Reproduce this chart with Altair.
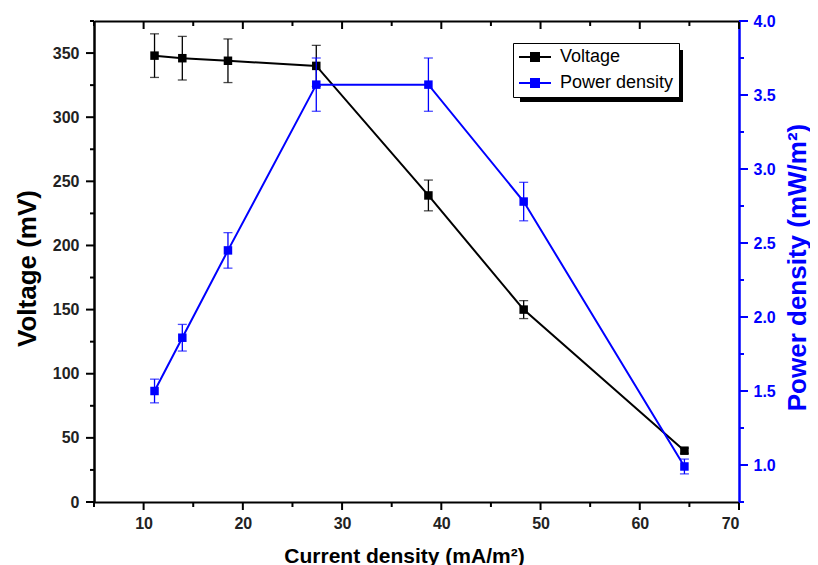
import altair as alt
import pandas as pd

# ---- data ----
current = [11.1, 13.9, 18.5, 27.4, 38.7, 48.3, 64.5]
voltage = [348, 346, 344, 340, 239, 150, 40]
voltage_err = [17, 17, 17, 16, 12, 7, 2]
power = [1.50, 1.86, 2.45, 3.57, 3.57, 2.78, 0.99]
power_err = [0.08, 0.09, 0.12, 0.18, 0.18, 0.13, 0.05]
series_names = ["Voltage", "Power density"]
x_major = list(range(10, 71, 10))
x_minor = list(range(5, 70, 10))
v_major = list(range(0, 351, 50))
v_minor = list(range(25, 376, 50))
p_major = [1.0, 1.5, 2.0, 2.5, 3.0, 3.5, 4.0]
p_minor = [0.75, 1.25, 1.75, 2.25, 2.75, 3.25, 3.75]

W, H = 645, 481
FONT = "Liberation Sans"
BLUE = "#0000ff"

df_v = pd.DataFrame({
    "x": current, "y": voltage,
    "lo": [v - e for v, e in zip(voltage, voltage_err)],
    "hi": [v + e for v, e in zip(voltage, voltage_err)],
    "series": series_names[0],
})
df_p = pd.DataFrame({
    "x": current, "y": power,
    "lo": [v - e for v, e in zip(power, power_err)],
    "hi": [v + e for v, e in zip(power, power_err)],
    "series": series_names[1],
})

color = alt.Color(
    "series:N",
    scale=alt.Scale(domain=series_names, range=["#000000", BLUE]),
    legend=alt.Legend(
        title=None, orient="none", legendX=419, legendY=22,
        fillColor="white", strokeColor="black", padding=5,
        labelFont=FONT, labelFontSize=18, labelColor="black",
        symbolType="M-1,0H3M0.5,-0.5H1.5V0.5H0.5Z",
        symbolSize=256, symbolStrokeWidth=2, labelOffset=24,
        rowPadding=8, cornerRadius=0,
    ),
)

x_scale = alt.Scale(domain=[5, 70], nice=False, zero=False)
v_scale = alt.Scale(domain=[0, 375], nice=False, zero=False)
p_scale = alt.Scale(domain=[0.75, 4.0], nice=False, zero=False)

x_bottom = alt.Axis(
    orient="bottom", values=x_major, ticks=False, domainColor="black",
    domainWidth=2, grid=False,
    labelFont=FONT, labelFontSize=16, labelFontWeight="bold", labelColor="#222",
    labelPadding=13,
    title="Current density (mA/m²)", titleFont=FONT, titleFontSize=21,
    titleFontWeight="bold", titleColor="black", titleX=310, titleY=60,
    titleBaseline="alphabetic", titleAlign="center",
)
x_top = alt.Axis(orient="top", values=x_major, ticks=False, labels=False,
                 domainColor="black", domainWidth=2, title=None, grid=False)
v_axis = alt.Axis(
    orient="left", values=v_major, ticks=False, domainColor="black",
    domainWidth=2.5, grid=False,
    labelFont=FONT, labelFontSize=16, labelFontWeight="bold", labelColor="#222",
    labelPadding=15,
    title="Voltage (mV)", titleFont=FONT, titleFontSize=26, titleFontWeight="bold",
    titleColor="black", titleX=-59, titleY=247, titleAngle=270,
    titleBaseline="alphabetic", titleAlign="center",
)
p_axis = alt.Axis(
    orient="right", values=p_major, format=".1f", ticks=False,
    domainColor=BLUE, domainWidth=2.5, grid=False,
    labelFont=FONT, labelFontSize=16, labelFontWeight="bold", labelColor=BLUE,
    labelPadding=14,
    title="Power density (mW/m²)", titleFont=FONT, titleFontSize=26,
    titleFontWeight="bold", titleColor=BLUE, titleX=66, titleY=246,
    titleAngle=270, titleBaseline="alphabetic", titleAlign="center",
)


def x_ticks(values, y0, y1):
    return alt.Chart(pd.DataFrame({"t": values})).mark_rule(
        color="black", strokeWidth=2
    ).encode(x=alt.X("t:Q", scale=x_scale, axis=None),
             y=alt.value(y0), y2=alt.value(y1))


def y_ticks(values, scale, x0, x1, col):
    return alt.Chart(pd.DataFrame({"t": values})).mark_rule(
        color=col, strokeWidth=2
    ).encode(y=alt.Y("t:Q", scale=scale, axis=None),
             x=alt.value(x0), x2=alt.value(x1))


base_v = alt.Chart(df_v)
v_line = base_v.mark_line(strokeWidth=2).encode(
    x=alt.X("x:Q", scale=x_scale, axis=x_bottom),
    y=alt.Y("y:Q", scale=v_scale, axis=v_axis),
    color=color,
)
v_err = base_v.mark_errorbar(ticks={"size": 9}, thickness=1.3, color="black").encode(
    x=alt.X("x:Q", scale=x_scale, axis=None),
    y=alt.Y("lo:Q", scale=v_scale, axis=None),
    y2="hi:Q",
)
v_pts = base_v.mark_point(shape="square", filled=True, size=72, opacity=1).encode(
    x=alt.X("x:Q", scale=x_scale, axis=None),
    y=alt.Y("y:Q", scale=v_scale, axis=None),
    color=color,
)
v_group = alt.layer(
    v_line, v_err, v_pts,
    x_ticks(x_major, H, H + 8), x_ticks(x_minor, H, H + 5),
    x_ticks(x_major, 0, 8), x_ticks(x_minor, 0, 5),
    y_ticks(v_major, v_scale, -8, 0, "black"),
    y_ticks(v_minor, v_scale, -4, 0, "black"),
).resolve_axis(x="independent", y="independent")

base_p = alt.Chart(df_p)
p_line = base_p.mark_line(strokeWidth=2).encode(
    x=alt.X("x:Q", scale=x_scale, axis=x_top),
    y=alt.Y("y:Q", scale=p_scale, axis=p_axis),
    color=color,
)
p_err = base_p.mark_errorbar(ticks={"size": 9}, thickness=1.3, color=BLUE).encode(
    x=alt.X("x:Q", scale=x_scale, axis=None),
    y=alt.Y("lo:Q", scale=p_scale, axis=None),
    y2="hi:Q",
)
p_pts = base_p.mark_point(shape="square", filled=True, size=72, opacity=1).encode(
    x=alt.X("x:Q", scale=x_scale, axis=None),
    y=alt.Y("y:Q", scale=p_scale, axis=None),
    color=color,
)
p_group = alt.layer(
    p_line, p_err, p_pts,
    y_ticks(p_major, p_scale, W, W + 9, BLUE),
    y_ticks(p_minor, p_scale, W, W + 5, BLUE),
).resolve_axis(x="independent", y="independent")

# legend drop shadow (decoration)
shadow = alt.Chart(pd.DataFrame({"k": [0]})).mark_rect(color="black").encode(
    x=alt.value(426), x2=alt.value(589), y=alt.value(29), y2=alt.value(81)
)

chart = (
    alt.layer(shadow, v_group, p_group)
    .resolve_scale(y="independent")
    .resolve_axis(x="independent", y="independent")
    .properties(
        width=W, height=H, autosize="none",
        padding={"left": 86, "top": 13, "right": 71, "bottom": 64},
    )
    .configure_view(stroke=None)
)

chart.save("out.html", embed_options={"renderer": "svg", "actions": False})
